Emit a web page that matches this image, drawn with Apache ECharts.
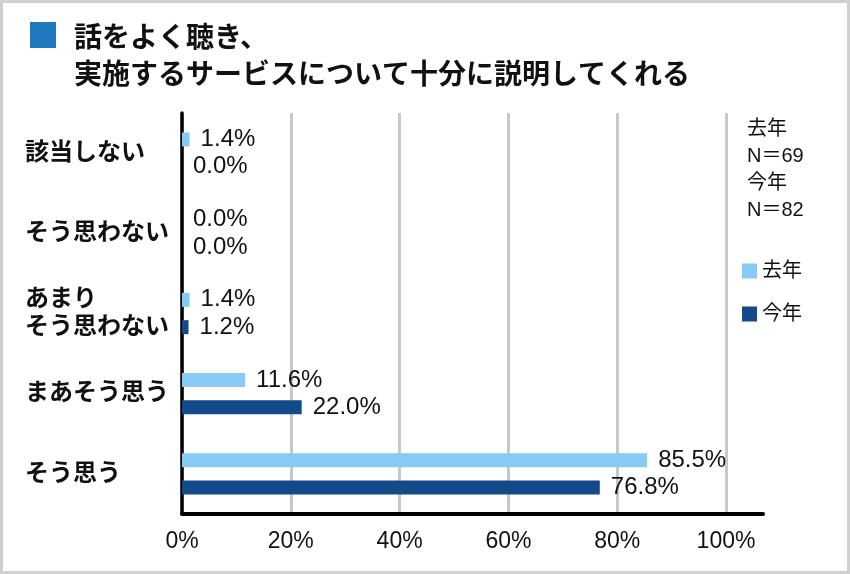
<!DOCTYPE html>
<html>
<head>
<meta charset="utf-8">
<script src="https://cdn.jsdelivr.net/npm/echarts@6/dist/echarts.min.js"></script>
<style>
  body { margin: 0; background: #fff; }
  #chart { width: 850px; height: 574px; }
</style>
</head>
<body>
<div id="chart"></div>
<script>
// data
var categories = ['該当しない', 'そう思わない', 'あまり\nそう思わない', 'まあそう思う', 'そう思う'];
var lastYear = [1.4, 0.0, 1.4, 11.6, 85.5];   // 去年
var thisYear = [0.0, 0.0, 1.2, 22.0, 76.8];   // 今年
var seriesNames = ['去年', '今年'];
var xTicks = [0, 20, 40, 60, 80, 100];
var noteText = '去年\nN＝69\n今年\nN＝82';
var titleText = '話をよく聴き、\n実施するサービスについて十分に説明してくれる';

var FONT = "'Liberation Sans', 'Noto Sans CJK JP', sans-serif";

var chart = echarts.init(document.getElementById('chart'));
var option = {};

option['backgroundColor'] = '#fff'

option['title'] = {
    text: titleText,
    left: 69,
    top: 16,
    textStyle: {
        fontFamily: FONT,
        fontSize: 28,
        fontWeight: 'bold',
        color: '#111',
        lineHeight: 37
    }
}

option['graphic'] = [
    {
        type: 'rect',
        shape: { x: 1.5, y: 1.5, width: 847, height: 571 },
        style: { fill: 'none', stroke: '#d0d0d0', lineWidth: 3 },
        silent: true
    },
    {
        type: 'rect',
        shape: { x: 30, y: 22, width: 26, height: 26 },
        style: { fill: '#2179bd' },
        silent: true
    },
    {
        type: 'text',
        left: 747,
        top: 116,
        style: {
            text: noteText,
            fontFamily: FONT,
            fontSize: 20,
            lineHeight: 27,
            fill: '#111'
        }
    }
]

option['legend'] = {
    data: seriesNames,
    orient: 'vertical',
    left: 742,
    top: 261,
    padding: 0,
    itemWidth: 15,
    itemHeight: 15,
    itemGap: 23,
    icon: 'rect',
    textStyle: {
        fontFamily: FONT,
        fontSize: 20,
        color: '#111'
    }
}

option['grid'] = {
    left: 182,
    right: 87,
    top: 113,
    bottom: 60
}

option['xAxis'] = {
    type: 'value',
    min: 0,
    max: 106.8,
    interval: 20,
    axisLine: { show: true, lineStyle: { color: '#000', width: 4 } },
    axisTick: { show: false },
    splitLine: { show: true, showMaxLine: false, lineStyle: { color: '#c8c8c8', width: 3 } },
    axisLabel: {
        showMaxLabel: false,
        margin: 16,
        fontFamily: FONT,
        fontSize: 23,
        color: '#111',
        formatter: function (v) {
            return xTicks.indexOf(v) >= 0 ? v + '%' : '';
        }
    }
}

option['yAxis'] = {
    type: 'category',
    data: categories,
    inverse: true,
    axisLine: { show: true, lineStyle: { color: '#000', width: 3.5 } },
    axisTick: { show: false },
    axisLabel: {
        align: 'left',
        margin: 157,
        fontFamily: FONT,
        fontSize: 24,
        fontWeight: 'bold',
        lineHeight: 28,
        color: '#111'
    }
}

var colors = ['#86cbf3', '#134b8a'];
var values = [lastYear, thisYear];
option['series'] = [];
for (var i = 0; i < seriesNames.length; i++) {
    option['series'].push({
        name: seriesNames[i],
        type: 'bar',
        data: values[i],
        barWidth: 14,
        barGap: '95%',
        itemStyle: { color: colors[i] },
        label: {
            show: true,
            position: 'right',
            distance: 11,
            fontFamily: FONT,
            fontSize: 24,
            color: '#111',
            formatter: function (p) {
                return p.value.toFixed(1) + '%';
            }
        }
    })
}

option && chart.setOption(option)
</script>
</body>
</html>
